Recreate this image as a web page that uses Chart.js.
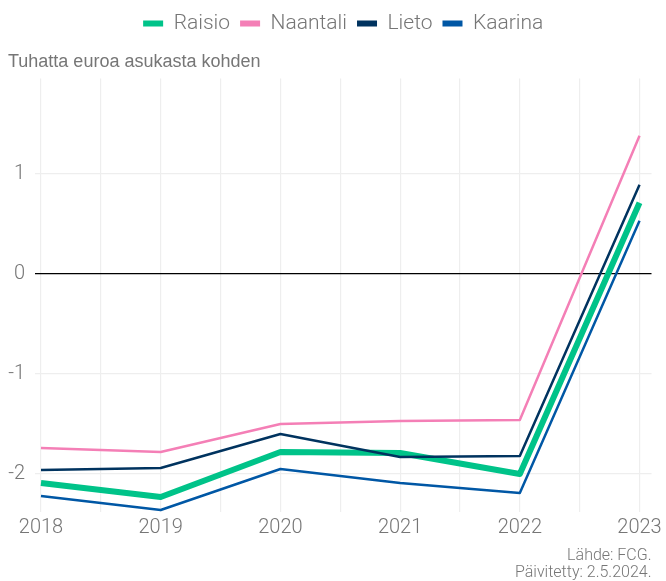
<!DOCTYPE html>
<html>
<head>
<meta charset="utf-8">
<style>
  html, body { margin: 0; padding: 0; background: #fff; }
  #wrap { width: 666px; height: 581px; }
</style>
</head>
<body>
<div id="wrap">
    <canvas id="myChart"></canvas>
</div>

<script src="https://cdn.jsdelivr.net/npm/chart.js@4.4.1/dist/chart.umd.min.js"></script>

<script>
    // vuodet ja kuntien tulos (tuhatta euroa / asukas)
    var years = [2018, 2019, 2020, 2021, 2022, 2023];
    var raisio = [-2.09, -2.23, -1.78, -1.79, -2.00, 0.71];
    var naantali = [-1.74, -1.78, -1.50, -1.47, -1.46, 1.38];
    var lieto = [-1.96, -1.94, -1.60, -1.83, -1.82, 0.89];
    var kaarina = [-2.22, -2.36, -1.95, -2.09, -2.19, 0.53];
    var yTicks = [-2, -1, 0, 1];

    var grey = '#767676';
    var gridGrey = '#eeeeee';

    function points(values) {
        return values.map(function (v, i) { return { x: years[i], y: v }; });
    }

    // lähdeteksti oikeaan alakulmaan
    var footerPlugin = {
        id: 'footerPlugin',
        afterDraw: function (chart) {
            var ctx = chart.ctx;
            var right = chart.chartArea.right;
            ctx.save();
            ctx.fillStyle = grey;
            ctx.font = '300 16px Roboto';
            ctx.textAlign = 'right';
            ctx.textBaseline = 'middle';
            ctx.fillText('Lähde: FCG.', right, 556);
            ctx.fillText('Päivitetty: 2.5.2024.', right, 573);
            ctx.restore();
        }
    };

    const ctx = document.getElementById('myChart');

    new Chart(ctx, {
        type: 'line',
        data: {
            datasets: [
                { label: 'Raisio', data: points(raisio), borderColor: '#00c389', backgroundColor: '#00c389', borderWidth: 6, order: 1 },
                { label: 'Naantali', data: points(naantali), borderColor: '#f47fb6', backgroundColor: '#f47fb6', borderWidth: 2.5, order: 0 },
                { label: 'Lieto', data: points(lieto), borderColor: '#00335f', backgroundColor: '#00335f', borderWidth: 2.5, order: 0 },
                { label: 'Kaarina', data: points(kaarina), borderColor: '#0057a5', backgroundColor: '#0057a5', borderWidth: 2.5, order: 0 }
            ]
        },
        options: {
            responsive: true,
            maintainAspectRatio: false,
            animation: false,
            layout: { padding: { left: 8, right: 14, top: 3, bottom: 39 } },
            elements: {
                point: { radius: 0, hoverRadius: 0 },
                line: { tension: 0, borderCapStyle: 'butt', borderJoinStyle: 'round' }
            },
            scales: {
                x: {
                    type: 'linear',
                    min: 2017.95,
                    max: 2023.1,
                    afterBuildTicks: function (scale) {
                        var t = [];
                        years.forEach(function (y, i) {
                            t.push({ value: y });
                            if (i < years.length - 1) t.push({ value: y + 0.5 });
                        });
                        scale.ticks = t;
                    },
                    afterFit: function (scale) { scale.height = 30; },
                    border: { display: false },
                    grid: { color: gridGrey, lineWidth: 1.2, drawTicks: false },
                    ticks: {
                        color: grey,
                        font: { family: 'Roboto', size: 20, weight: '300' },
                        padding: 4,
                        maxRotation: 0,
                        autoSkip: false,
                        callback: function (v) { return Number.isInteger(v) ? String(v) : ''; }
                    }
                },
                y: {
                    min: -2.38,
                    max: 1.95,
                    afterBuildTicks: function (scale) {
                        scale.ticks = yTicks.map(function (v) { return { value: v }; });
                    },
                    afterFit: function (scale) { scale.width = 27; },
                    border: { display: false },
                    grid: {
                        drawTicks: false,
                        color: function (c) { return c.tick && c.tick.value === 0 ? '#000000' : gridGrey; },
                        lineWidth: function (c) { return c.tick && c.tick.value === 0 ? 1.3 : 1.2; }
                    },
                    ticks: {
                        color: grey,
                        font: { family: 'Roboto', size: 20, weight: '300' },
                        padding: 10
                    }
                }
            },
            plugins: {
                legend: {
                    position: 'top',
                    fullSize: false,
                    weight: 3000,
                    labels: {
                        color: grey,
                        font: { family: 'Roboto', size: 21, weight: '300' },
                        boxWidth: 20,
                        boxHeight: 6,
                        padding: 10,
                        sort: function (a, b) { return a.datasetIndex - b.datasetIndex; },
                        generateLabels: function (chart) {
                            var items = Chart.defaults.plugins.legend.labels.generateLabels(chart);
                            items.forEach(function (it) { it.lineWidth = 0; });
                            return items;
                        }
                    }
                },
                subtitle: {
                    display: true,
                    text: 'Tuhatta euroa asukasta kohden',
                    align: 'start',
                    color: grey,
                    font: { family: 'Liberation Sans', size: 18, weight: 'normal' },
                    padding: { top: 7, bottom: 6 }
                },
                tooltip: { enabled: false }
            }
        },
        plugins: [footerPlugin]
    });
</script>
</body>
</html>
